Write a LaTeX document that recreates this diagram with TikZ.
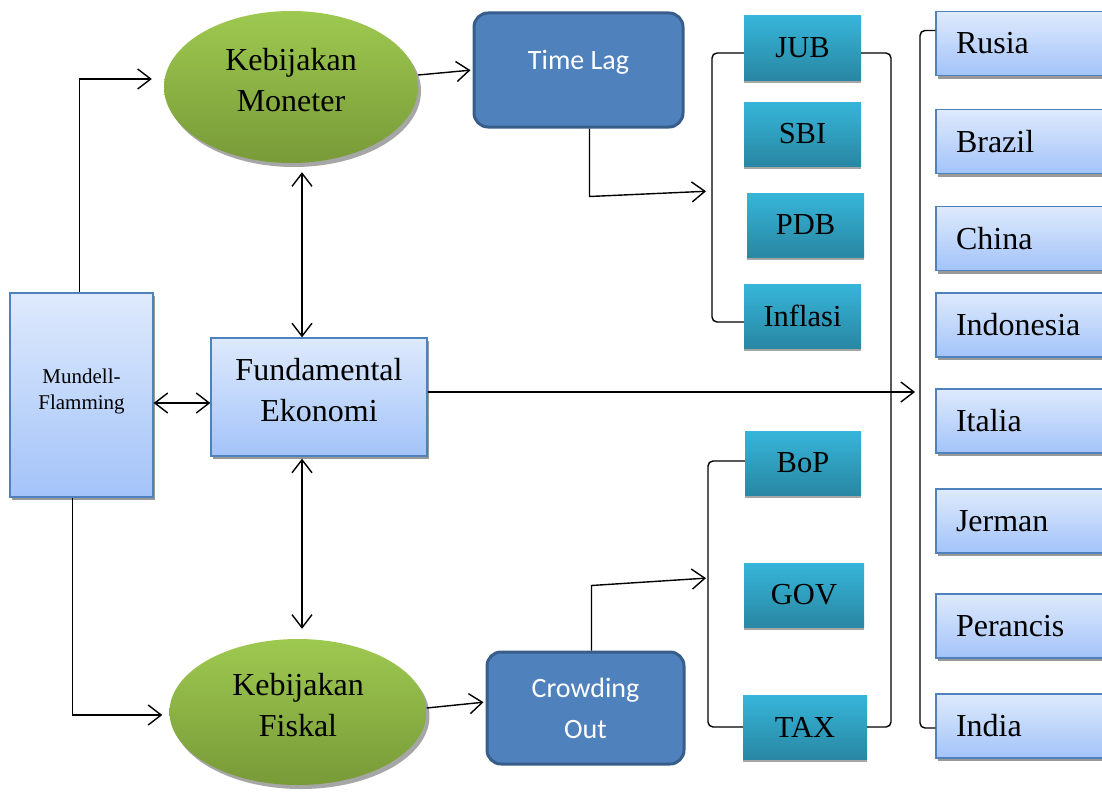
\documentclass[tikz,border=0pt]{standalone}
\usepackage{fontspec}
\setmainfont{Liberation Serif}
\newfontfamily\calibri{Carlito}
\usetikzlibrary{positioning,arrows.meta,calc,shapes.geometric,shadows}
\definecolor{ekotop}{RGB}{222,234,252}
\definecolor{ekobot}{RGB}{163,195,249}
\definecolor{ekoline}{RGB}{79,129,189}
\definecolor{vartop}{RGB}{54,181,217}
\definecolor{varbot}{RGB}{41,135,163}
\definecolor{kebtop}{RGB}{158,201,80}
\definecolor{kebbot}{RGB}{120,154,56}
\definecolor{lagfill}{RGB}{79,129,189}
\definecolor{lagline}{RGB}{56,93,138}
\tikzset{
  ekobox/.style   = {draw=ekoline, line width=1.3pt, top color=ekotop, bottom color=ekobot,
                     align=center, inner sep=4pt,
                     drop shadow={shadow xshift=2pt, shadow yshift=-3pt, fill=black!40, opacity=1}},
  negara/.style   = {ekobox, minimum height=64pt, text width=150pt, inner xsep=20pt,
                     align=left, font=\fontsize{32}{36}\selectfont},
  varbox/.style   = {top color=vartop, bottom color=varbot, minimum height=64pt,
                     minimum width=117pt, inner sep=2pt, font=\fontsize{30.5}{34}\selectfont,
                     drop shadow={shadow xshift=0pt, shadow yshift=-3pt, fill=black!35, opacity=1}},
  kebijakan/.style= {ellipse, top color=kebtop, bottom color=kebbot, inner sep=0pt,
                     align=center, font=\fontsize{32}{41}\selectfont, text depth=14pt,
                     drop shadow={shadow xshift=3pt, shadow yshift=-4pt, fill=black!35, opacity=1}},
  lagbox/.style   = {draw=lagline, line width=3pt, fill=lagfill, rounded corners=14pt,
                     text=white, align=center, font=\calibri\fontsize{28}{41}\selectfont},
  flow/.style     = {-{Straight Barb[length=13pt,width=20pt]}, line width=1.4pt},
  both/.style     = {{Straight Barb[length=13pt,width=20pt]}-{Straight Barb[length=13pt,width=20pt]}, line width=1.4pt},
  link/.style     = {line width=1.4pt, rounded corners=5pt},
}
\begin{document}
\begin{tikzpicture}[x=1pt, y=-1pt]
\useasboundingbox (0,0) rectangle (1102,792);

% model and policies
\node[ekobox, minimum width=143pt, minimum height=204pt, font=\fontsize{21}{26}\selectfont, text depth=12pt]
  (mf) at (81.5,395) {Mundell-\\Flamming};
\node[ekobox, minimum width=216pt, minimum height=118pt, font=\fontsize{32}{41}\selectfont, text depth=14pt]
  (fund) at (319,397) {Fundamental\\Ekonomi};
\node[kebijakan, minimum width=254pt, minimum height=152pt] (mon) at (291,87) {Kebijakan\\Moneter};
\node[kebijakan, minimum width=257pt, minimum height=146pt] (fis) at (298,712) {Kebijakan\\Fiskal};
\node[lagbox, minimum width=209pt, minimum height=114pt, text height=20pt, text depth=20pt]
  (lag) at (578.5,70) {Time Lag};
\node[lagbox, minimum width=197pt, minimum height=112pt] (crowd) at (585.5,708) {Crowding\\Out};

% variables
\node[varbox] (jub) at (802.5,48) {JUB};
\node[varbox] (sbi) at (802.5,134) {SBI};
\node[varbox] (pdb) at (805.5,225) {PDB};
\node[varbox] (inf) at (802.5,316) {Inflasi};
\node[varbox, minimum width=116pt] (bop) at (803,463) {BoP};
\node[varbox, minimum width=120pt] (gov) at (804,595) {GOV};
\node[varbox, minimum width=124pt] (tax) at (805,727) {TAX};

% countries
\node[negara] (rus) at (1031,43.5) {Rusia};
\node[negara] (bra) at (1031,141.5) {Brazil};
\node[negara] (chn) at (1031,238.5) {China};
\node[negara] (idn) at (1031,325) {Indonesia};
\node[negara] (ita) at (1031,421) {Italia};
\node[negara] (ger) at (1031,521) {Jerman};
\node[negara] (fra) at (1031,626) {Perancis};
\node[negara] (ind) at (1031,726) {India};

\coordinate (vx) at (302,0);
\coordinate (rb) at (891,0);
\coordinate (cb) at (920,0);
\coordinate (monbr) at (712,191);
\coordinate (fisbr) at (708,578);

% connectors
\draw[flow, shorten >=12pt] ([xshift=-2pt]mf.north) |- ([yshift=8pt]mon.west);
\draw[flow, shorten >=7pt] ([xshift=-9pt]mf.south) |- ([yshift=-3pt]fis.west);
\draw[both] ([yshift=-6pt]fund.west) -- ([yshift=-6pt]fund.west -| mf.east);
\draw[both, shorten >=9pt] (fund.north -| vx) -- (mon.south -| vx);
\draw[both, shorten >=10pt, shorten <=2pt] (fund.south -| vx) -- (fis.north -| vx);
\draw[flow, shorten >=2pt] ([yshift=12pt]mon.east) -- (lag.west);
\draw[flow, shorten >=2pt] ([yshift=4pt]fis.east) -- ([yshift=6pt]crowd.west);
\draw[flow, shorten >=6pt] ([xshift=11pt]lag.south) -- ++(0,68) -- (monbr);
\draw[flow, shorten >=2pt] ([xshift=6pt]crowd.north) -- ++(0,-65) -- (fisbr);
\draw[flow, shorten >=5pt] ([yshift=5pt]fund.east) -- ([yshift=5pt]fund.east -| cb);

% brackets
\draw[link] ([yshift=-5pt]jub.west) -- ([yshift=-5pt]jub.west -| monbr) -- ([yshift=-6pt]inf.west -| monbr) -- ([yshift=-6pt]inf.west);
\draw[link] ([yshift=2pt]bop.west) -- ([yshift=2pt]bop.west -| fisbr) -- (tax.west -| fisbr) -- (tax.west);
\draw[link] ([yshift=-5pt]jub.east) -- ([yshift=-5pt]jub.east -| rb) -- (tax.east -| rb) -- (tax.east);
\draw[link] ([yshift=13pt]rus.west) -- ([yshift=13pt]rus.west -| cb) -- ([yshift=-2pt]ind.west -| cb) -- ([yshift=-2pt]ind.west);
\end{tikzpicture}
\end{document}
